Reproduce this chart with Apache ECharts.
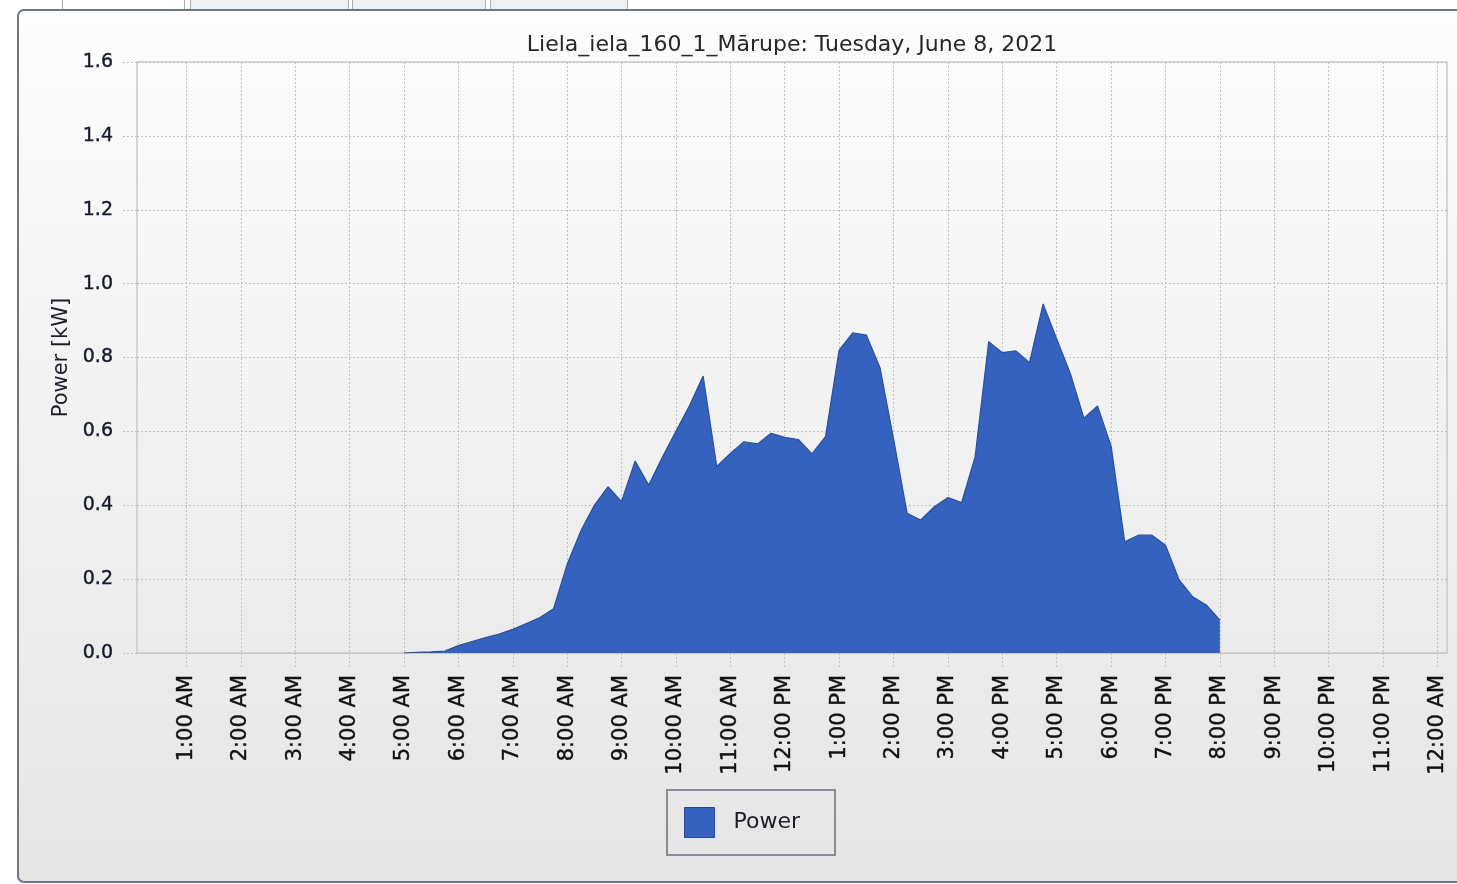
<!DOCTYPE html>
<html>
<head>
<meta charset="utf-8">
<script src="https://cdn.jsdelivr.net/npm/echarts@6/dist/echarts.min.js"></script>
<style>
  html, body { margin: 0; padding: 0; background: #fff; }
  #wrap { position: relative; width: 1457px; height: 884px; overflow: hidden; }
  .tab { position: absolute; top: -2px; height: 12px; border: 1px solid #a7acb4; background: #eef0f2; }
  #panel {
    position: absolute; left: 17px; top: 9px; width: 1470px; height: 870px;
    border: 2px solid #6f7682; border-radius: 7px;
    background: linear-gradient(#fdfdfd, #e5e5e5);
  }
  #chart { position: absolute; left: 0; top: 0; width: 1457px; height: 884px; }
</style>
</head>
<body>
<div id="wrap">
  <div class="tab" style="left:62px;width:121px;background:#fff"></div>
  <div class="tab" style="left:190px;width:157px"></div>
  <div class="tab" style="left:352px;width:132px"></div>
  <div class="tab" style="left:490px;width:136px"></div>
  <div id="panel"></div>
  <div id="chart"></div>
</div>
<script>
// samples of the day, every 15 minutes
const times = [
  '05:00', '05:15', '05:30', '05:45', '06:00', '06:15', '06:30', '06:45',
  '07:00', '07:15', '07:30', '07:45', '08:00', '08:15', '08:30', '08:45',
  '09:00', '09:15', '09:30', '09:45', '10:00', '10:15', '10:30', '10:45',
  '11:00', '11:15', '11:30', '11:45', '12:00', '12:15', '12:30', '12:45',
  '13:00', '13:15', '13:30', '13:45', '14:00', '14:15', '14:30', '14:45',
  '15:00', '15:15', '15:30', '15:45', '16:00', '16:15', '16:30', '16:45',
  '17:00', '17:15', '17:30', '17:45', '18:00', '18:15', '18:30', '18:45',
  '19:00', '19:15', '19:30', '19:45', '20:00'
]
const power = [
  0, 0.002, 0.003, 0.005, 0.02, 0.031, 0.042, 0.051,
  0.064, 0.08, 0.096, 0.12, 0.24, 0.33, 0.40, 0.45,
  0.41, 0.52, 0.455, 0.53, 0.60, 0.67, 0.75, 0.505,
  0.54, 0.572, 0.566, 0.595, 0.584, 0.578, 0.539, 0.586,
  0.82, 0.867, 0.861, 0.773, 0.58, 0.378, 0.36, 0.396,
  0.421, 0.407, 0.531, 0.843, 0.813, 0.818, 0.786, 0.945,
  0.85, 0.757, 0.636, 0.669, 0.56, 0.301, 0.319, 0.319,
  0.292, 0.198, 0.152, 0.13, 0.089
]
const hourTicks = [1, 2, 3, 4, 5, 6, 7, 8, 9, 10, 11, 12, 13, 14, 15, 16, 17, 18, 19, 20, 21, 22, 23, 24]
const tickLabels = [
  '1:00 AM', '2:00 AM', '3:00 AM', '4:00 AM', '5:00 AM', '6:00 AM', '7:00 AM', '8:00 AM',
  '9:00 AM', '10:00 AM', '11:00 AM', '12:00 PM', '1:00 PM', '2:00 PM', '3:00 PM', '4:00 PM',
  '5:00 PM', '6:00 PM', '7:00 PM', '8:00 PM', '9:00 PM', '10:00 PM', '11:00 PM', '12:00 AM'
]

function toHours(t) {
  let p = t.split(':')
  return Number(p[0]) + Number(p[1]) / 60
}

let data = []
for (let i = 0; i < times.length; i++) {
  data.push([toHours(times[i]), power[i]])
}

const font = 'DejaVu Sans'
const dotted = { color: '#bfbfbf', type: [2, 2], width: 1 }

let myChart = echarts.init(document.getElementById('chart'))
myChart.setOption({
  animation: false,
  backgroundColor: 'transparent',
  title: {
    text: 'Liela_iela_160_1_Mārupe: Tuesday, June 8, 2021',
    left: 787,
    top: 29,
    textAlign: 'center',
    textStyle: { fontFamily: font, fontSize: 22, fontWeight: 'normal', color: '#262626' },
  },
  legend: {
    left: 667,
    top: 790,
    data: ['Power'],
    icon: 'rect',
    itemWidth: 30,
    itemHeight: 30,
    padding: [17, 35, 17, 17],
    borderColor: '#878c94',
    borderWidth: 2,
    itemStyle: { borderColor: '#24469a', borderWidth: 1 },
    textStyle: { fontFamily: font, fontSize: 22, color: '#1e1e2a', padding: [0, 0, 0, 14] },
  },
  grid: {
    left: 137,
    top: 62,
    right: 10,
    bottom: 231,
    containLabel: false,
    outerBoundsMode: 'none',
    show: true,
    borderColor: '#c9c9c9',
    borderWidth: 1.5,
    backgroundColor: 'transparent',
  },
  xAxis: {
    type: 'value',
    min: 0.092,
    max: 24.175,
    axisLine: { show: false },
    axisTick: { show: true, customValues: hourTicks, length: 14, lineStyle: dotted },
    axisLabel: {
      customValues: hourTicks,
      rotate: 90,
      margin: 22,
      fontFamily: font,
      fontSize: 21,
      color: '#111',
      textBorderColor: '#111',
      textBorderWidth: 0.4,
      formatter: function (v) {
        let i = hourTicks.indexOf(Math.round(v))
        return i < 0 ? '' : tickLabels[i]
      },
    },
    splitLine: { show: true, lineStyle: dotted },
  },
  yAxis: {
    type: 'value',
    min: 0,
    max: 1.6,
    interval: 0.2,
    name: 'Power [kW]',
    nameLocation: 'middle',
    nameGap: 65,
    nameRotate: 90,
    nameTextStyle: { fontFamily: font, fontSize: 21, color: '#1e1e2a' },
    axisLine: { show: false },
    axisTick: { show: true, length: 14, lineStyle: dotted },
    axisLabel: {
      margin: 24,
      fontFamily: font,
      fontSize: 19,
      color: '#151a28',
      textBorderColor: '#151a28',
      textBorderWidth: 0.4,
      formatter: function (v) { return v.toFixed(1) },
    },
    splitLine: { show: true, lineStyle: dotted },
  },
  series: [
    {
      name: 'Power',
      type: 'line',
      data: data,
      symbol: 'none',
      showSymbol: false,
      itemStyle: { color: '#3462be' },
      lineStyle: { color: '#2a4f9e', width: 1.2 },
      areaStyle: { color: '#3462be', opacity: 1 },
    },
  ],
})
</script>
</body>
</html>
